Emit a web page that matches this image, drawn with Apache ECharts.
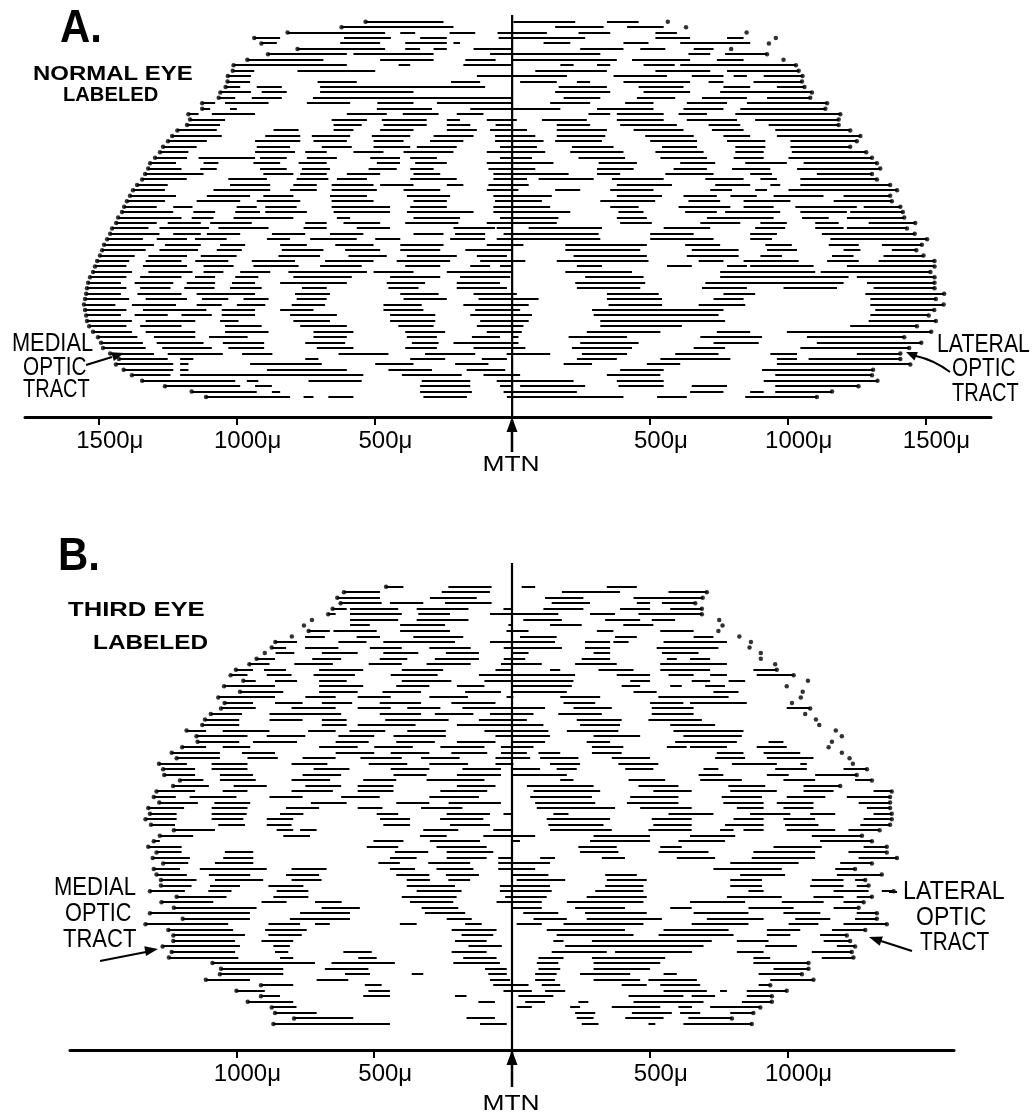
<!DOCTYPE html>
<html><head><meta charset="utf-8">
<script src="https://cdn.jsdelivr.net/npm/echarts@6/dist/echarts.min.js"></script>
<style>html,body{margin:0;padding:0;background:#fff}#c{width:1036px;height:1117px}</style>
</head><body><div id="c"></div>
<script>
// ---------- DATA (distances from MTN in microns; negative = medial side) ----------
// Panel A: normal eye labeled. One entry per section row (top to bottom): flat list of segment [start,end] pairs
const rowsA = [
[-532,-249,5,229,344,459],
[-619,-213,156,332,417,550],
[-815,-461,-406,-352,-227,-134,-53,126,241,356,520,598],
[-936,-842,-610,-440,-334,-237,-49,265,520,646,780,840],
[-910,-854,-624,-479,-388,-237,-213,-189,114,211,404,495,610,864],
[-779,-461,-388,-334,-285,-237,-140,0,247,404,465,556,659,731],
[-886,-600,-576,-285,-80,320,640,719,773,925],
[-961,-685,-479,-285,-170,-60,0,380,435,646,743,840],
[-1011,-600,-412,-370,-177,0,175,223,308,356,477,590,610,1030],
[-1014,-936,-779,-497,84,344,520,719,780,1040],
[-1032,-948,-128,199,368,562,652,767,804,852,913,1054],
[-1033,-951,-706,-564,-222,-116,29,162,235,283,404,646,713,767,876,1052],
[-1040,-987,-927,-836,-697,-98,169,344,459,622,767,864,961,1061],
[-1059,-948,-909,-818,-697,-358,156,356,477,646,755,1088],
[-1065,-1005,-945,-836,-723,0,187,320,453,592,689,852,925,1082],
[-1125,-1078,-1042,-884,-745,-588,-489,-358,-273,0,138,283,410,513,634,780,852,1143],
[-1125,-1096,-1024,-999,-491,-291,-152,175,308,513,622,767,828,1137],
[-1175,-1138,-1090,-933,-600,-455,-397,-267,-201,-104,277,356,380,550,604,707,810,1191],
[-1169,-1042,-655,-527,-473,-310,-237,-189,-92,17,108,271,380,550,634,816,882,1185],
[-1180,-1060,-648,-546,-467,-310,-237,-152,-60,0,162,283,392,598,713,828,931,1185],
[-1215,-1072,-866,-775,-648,-576,-479,-358,-237,-128,-80,54,162,344,441,622,725,840,955,1227],
[-1234,-1054,-896,-769,-727,-588,-509,-370,-285,-140,-62,84,162,338,483,659,767,864,961,1264],
[-1249,-1108,-933,-769,-721,-600,-503,-394,-298,-177,-62,114,156,326,501,671,780,919,1010,1251],
[-1267,-1145,-927,-806,-691,-582,-503,-370,-346,-201,-44,90,217,368,544,671,810,919,1010,1227],
[-1278,-1175,-933,-788,-751,-673,-576,-467,-394,-213,-92,120,211,404,520,695,810,913,1015,1285],
[-1296,-1180,-1138,-933,-915,-818,-745,-636,-515,-407,-370,-273,-44,72,241,410,538,707,804,913,1003,1306],
[-1314,-1220,-1120,-1066,-939,-842,-775,-673,-491,-407,-352,-237,-92,150,314,453,610,737,846,997,1058,1324],
[-1321,-1200,-1132,-1072,-915,-818,-763,-661,-521,-419,-370,-285,-86,84,308,441,586,707,798,937,1034,1336],
[-1332,-1120,-903,-794,-769,-673,-600,-479,-358,-261,-68,205,308,392,556,731,864,943,1106,1306],
[-1343,-1181,-1030,-890,-782,-667,-636,-527,-370,-201,-68,54,96,296,362,550,701,840,901,961,1046,1324],
[-1361,-1250,-1024,-878,-794,-709,-655,-503,-479,-358,-237,-177,-86,60,380,580,737,864,937,973,1046,1372],
[-1376,-1260,-1084,-878,-806,-709,-655,-491,-394,-261,-92,23,156,247,356,513,719,798,882,925,1003,1397],
[-1387,-1220,-1108,-951,-903,-794,-661,-527,-382,-225,-68,144,380,544,622,743,792,888,949,1130,1203,1372],
[-1398,-1260,-1145,-987,-927,-769,-655,-503,-358,-237,-62,108,320,519,640,755,840,1010,1167,1378],
[-1408,-1290,-1230,-1160,-1000,-927,-896,-782,-655,-443,-370,-237,-68,138,356,459,604,792,840,949,1028,1251,1276,1409],
[-1416,-1230,-1157,-1078,-1005,-915,-896,-745,-648,-443,-382,-140,-68,211,386,477,628,743,773,973,1046,1215,1227,1418],
[-1430,-1200,-1163,-1084,-1011,-794,-636,-588,-358,-189,-44,168,380,489,707,949,1052,1149,1215,1423],
[-1437,-1290,-1250,-1130,-1096,-945,-751,-673,-612,-479,-388,-195,-92,162,392,507,683,828,901,997,1100,1185,1294,1463],
[-1452,-1320,-1280,-1100,-1066,-884,-757,-673,-564,-443,-213,-62,-56,0,60,326,550,719,882,991,1100,1203,1215,1433],
[-1459,-1280,-1230,-1130,-1108,-987,-872,-751,-661,-540,-358,-249,-207,-98,-31,314,501,659,864,961,1124,1461],
[-1470,-1340,-1290,-1180,-1151,-1036,-890,-806,-733,-564,-497,-406,-225,-98,-56,320,501,731,864,943,1155,1506],
[-1481,-1300,-1260,-1130,-1060,-969,-842,-745,-642,-503,-406,-249,-92,41,193,489,628,755,919,1015,1149,1258,1342,1487],
[-1488,-1330,-1280,-1140,-1072,-981,-836,-685,-606,-479,-406,-261,-170,0,193,465,652,822,925,1034,1203,1264,1378,1467],
[-1496,-1370,-1320,-1180,-1130,-1000,-848,-697,-594,-455,-382,-201,-128,-19,223,489,634,822,901,979,1161,1239,1348,1493],
[-1506,-1390,-1330,-1200,-1150,-1030,-945,-788,-679,-503,-419,-225,-116,48,162,495,677,767,840,1040,1143,1258,1330,1533],
[-1514,-1400,-1340,-1180,-1120,-1011,-939,-775,-697,-546,-388,-261,-152,-80,-44,0,235,326,562,652,780,852,864,1094,1215,1533],
[-1521,-1380,-1320,-1160,-1120,-1048,-987,-878,-812,-527,-503,-358,-237,0,193,435,755,1100,1120,1518],
[-1532,-1400,-1350,-1200,-1151,-1078,-1005,-921,-794,-582,-443,-261,-189,-7,265,477,755,1221,1251,1533],
[-1539,-1420,-1370,-1230,-1181,-1078,-1017,-933,-842,-600,-455,-316,-201,-44,229,483,701,1203,1288,1533],
[-1543,-1400,-1350,-1240,-1190,-1080,-1024,-909,-763,-673,-449,-340,-201,-19,235,465,689,852,985,1179,1312,1533],
[-1546,-1420,-1360,-1200,-1145,-933,-788,-661,-406,-267,-140,17,344,532,767,882,1282,1568],
[-1550,-1390,-1330,-1180,-1126,-1030,-975,-884,-782,-673,-394,-237,-122,96,344,544,731,840,1300,1538],
[-1554,-1440,-1380,-1220,-1145,-1054,-999,-896,-800,-679,-467,-328,-177,60,350,544,677,846,1300,1566],
[-1550,-1400,-1340,-1110,-1054,-933,-842,-721,-467,-322,-134,29,290,767,1318,1532],
[-1546,-1420,-1370,-1250,-1200,-1090,-1054,-933,-806,-636,-443,-279,-152,72,296,749,1300,1512],
[-1543,-1380,-1330,-1150,-1060,-993,-794,-661,-443,-279,-116,60,320,773,1294,1538],
[-1535,-1400,-1350,-1200,-1042,-909,-769,-600,-413,-285,-128,41,320,616,1227,1469],
[-1521,-1380,-1330,-1150,-1042,-884,-721,-576,-388,-243,-92,35,271,538,743,864,997,1521],
[-1503,-1360,-1300,-1150,-1100,-960,-721,-600,-382,-273,-146,-44,0,23,205,417,683,907,1070,1423],
[-1492,-1340,-1290,-1120,-1050,-900,-751,-606,-364,-267,-213,23,247,459,731,895,1106,1485],
[-1485,-1330,-1270,-1090,-1030,-900,-709,-576,-388,-273,-140,48,217,435,659,773,1046,1441],
[-1459,-1300,-1250,-1050,-980,-870,-630,-449,-316,-134,-20,138,253,417,592,749,937,1034,1251,1409],
[-1427,-1250,-1205,-1157,-751,-703,-370,-243,-110,-19,235,380,538,792,961,1034,1076,1409],
[-1438,-1230,-1205,-1175,-951,-691,-497,-358,-207,-86,187,290,489,610,961,1445],
[-1410,-1230,-1205,-1175,-890,-600,-449,-291,-165,-25,392,550,907,1310],
[-1380,-1240,-1205,-540,-400,-183,-104,29,344,538,955,1306],
[-1343,-1005,-963,-921,-739,-546,-328,-152,-56,223,380,550,913,1326],
[-1260,-987,-933,-872,-334,-152,-44,0,29,265,386,550,652,780,955,1257],
[-1163,-927,-872,-842,-334,-146,-31,235,646,767,864,913,955,1161],
[-1111,-806,-757,-721,-667,-576,-322,-164,-19,404,526,634,846,1106]
];
// end points of each row that carry a dot (medial / lateral edge of the labeled zone)
const leftEndsA = [-532,-619,-815,-936,-910,-779,-886,-961,-1011,-1014,-1032,-1033,-1040,-1059,-1065,-1125,-1125,-1175,-1169,-1180,
-1215,-1234,-1249,-1267,-1278,-1296,-1314,-1321,-1332,-1343,-1361,-1376,-1387,-1398,-1408,-1416,-1430,-1437,-1452,-1459,
-1470,-1481,-1488,-1496,-1506,-1514,-1521,-1532,-1539,-1543,-1546,-1550,-1554,-1550,-1546,-1543,-1535,-1521,-1503,-1492,
-1485,-1459,-1427,-1438,-1410,-1380,-1343,-1260,-1163,-1111];
const rightEndsA = [565,631,851,957,932,795,925,985,1030,1040,1054,1052,1061,1088,1082,1143,1137,1191,1185,1185,
1227,1264,1251,1227,1285,1306,1324,1336,1306,1324,1372,1397,1372,1378,1409,1418,1423,1463,1433,1461,
1506,1487,1467,1493,1533,1533,1518,1533,1533,1533,1568,1538,1566,1532,1512,1538,1469,1521,1423,1485,
1441,1409,1409,1445,1310,1306,1326,1257,1161,1106];

// Panel B: third eye labeled
const rowsB = [
[-457,-394,-231,-74,35,84,344,453],
[-610,-479,-255,-80,181,392,568,707],
[-634,-479,-298,-128,120,259,441,692],
[-622,-473,-443,-322,-243,-74,144,283,453,501,544,665],
[-651,-600,-588,-413,-346,-158,-31,0,114,259,392,501,574,689],
[-667,-640,-588,-400,-340,-225,-80,168,283,374,459,689],
[-588,-413,-346,-158,41,181,338,465,507,592],
[-588,-516,-406,-243,-13,0,138,253,404,513],
[-738,-661,-648,-491,-406,-225,-20,60,308,368,538,659],
[-751,-679,-564,-479,-358,-177,29,162,374,453,659,731],
[-859,-780,-630,-528,-467,-207,-80,156,265,356,368,423,550,780],
[-872,-820,-751,-630,-516,-400,-300,-150,-30,181,265,356,525,749],
[-858,-790,-690,-560,-467,-340,-240,-120,0,60,296,356,544,677],
[-927,-860,-725,-620,-480,-380,-280,-120,-30,48,253,356,562,598,646,719],
[-953,-880,-790,-650,-520,-400,-310,-150,-40,108,229,380,538,780],
[-1002,-940,-900,-820,-700,-540,-400,-250,-60,0,138,175,314,441,538,719,876,961],
[-1021,-960,-890,-800,-720,-570,-440,-270,-120,229,380,501,568,659,719,780,888,1022],
[-975,-930,-860,-780,-700,-600,-400,-220,-100,223,429,501,652,719,786,846],
[-1045,-860,-700,-540,-420,-300,-200,-100,0,217,398,465,574,616,701,773],
[-987,-830,-700,-560,-470,-330,-170,-40,0,199,441,525,731,822],
[-1066,-860,-750,-640,-560,-440,-300,-160,-20,5,175,320,531,786],
[-1043,-940,-860,-760,-690,-580,-480,-330,-220,-60,187,302,501,622,646,852],
[-1056,-930,-800,-640,-560,-440,-380,-260,-180,120,223,362,507,659,997,1082],
[-1093,-980,-880,-620,-480,-330,-280,-140,-80,78,168,326,507,659],
[-1114,-990,-880,-760,-690,-600,-460,-230,-120,54,235,398,495,689],
[-1124,-990,-690,-600,-560,-350,-200,114,247,392,574,737],
[-1181,-1110,-1050,-880,-740,-640,-590,-460,-380,-240,-100,132,199,386,586,840],
[-1145,-960,-890,-750,-630,-500,-430,-240,-60,138,296,465,622,834],
[-1141,-990,-940,-780,-640,-520,-420,-280,-200,-60,0,120,271,356,592,816,931,985],
[-1197,-1110,-1050,-950,-700,-560,-500,-360,-260,-100,-40,78,290,404,562,634,646,780,888,997],
[-1235,-1060,-980,-860,-640,-500,-440,-300,-220,-90,-40,54,96,175,290,398,743,840,913,1046],
[-1217,-1060,-960,-850,-760,-640,-550,-400,-330,-190,-60,66,102,241,362,501,737,846,925,1094],
[-1281,-1180,-1090,-960,-800,-670,-520,-380,-300,-160,-60,5,138,247,386,531,798,961,1046,1070],
[-1266,-1150,-1090,-960,-720,-590,-440,-300,-180,-40,0,102,162,235,411,513,695,749,955,1070,1203,1288],
[-1262,-1150,-1060,-940,-760,-620,-430,-310,-200,-40,0,199,677,767,925,1004,1100,1251],
[-1205,-1120,-1060,-930,-800,-660,-540,-420,-310,-100,175,223,423,556,683,834,985,1100,1245,1306],
[-1230,-1100,-1010,-890,-750,-620,-560,-430,-200,-60,54,296,459,604,785,919,1058,1191],
[-1290,-1150,-1050,-960,-800,-650,-560,-430,-260,-90,78,320,513,652,792,961,1058,1167,1312,1378],
[-1300,-1220,-1170,-1000,-880,-760,-620,-480,-300,-120,66,290,429,604,761,907,997,1137,1215,1372],
[-1280,-1140,-1080,-950,-730,-600,-420,-300,-230,-40,84,302,417,604,767,913,961,1094,1258,1372],
[-1320,-1190,-1090,-960,-820,-700,-560,-470,-330,-180,90,374,465,652,816,913,985,1094,1288,1372],
[-1314,-1217,-1090,-963,-842,-757,-491,-413,-237,-80,-31,0,150,205,568,731,864,1010,1082,1173,1312,1378],
[-1330,-1217,-1090,-975,-890,-794,-479,-370,-261,-104,126,356,507,652,804,913,985,1100,1276,1378],
[-1310,-1223,-1066,-969,-890,-800,-467,-370,-225,-80,132,332,513,652,773,913,991,1112,1264,1372],
[-1227,-1078,-854,-794,-769,-709,-322,-195,-68,0,138,362,495,652,755,804,840,913,997,1173,1221,1334],
[-1278,-1157,-830,-733,-334,-237,-104,84,296,501,646,810,1088,1270],
[-1300,-1278,-503,-394,-298,-116,0,29,283,501,604,773,1118,1306],
[-1320,-1199,-527,-413,-274,-92,241,380,538,616,949,1124,1276,1360],
[-1290,-1199,-1042,-939,-425,-304,-237,-68,247,386,532,713,876,1100,1221,1360],
[-1304,-1169,-1048,-939,-443,-346,-237,-92,-50,0,102,156,326,410,598,737,870,1100,1258,1397],
[-1266,-1175,-1078,-939,-485,-407,-304,-152,-50,138,792,1040,1191,1306],
[-1300,-1205,-1133,-890,-800,-673,-443,-352,-274,-140,-50,84,731,979,1173,1245],
[-1290,-1180,-1100,-950,-820,-700,-420,-300,-240,-120,0,132,338,453,828,991,1179,1342],
[-1274,-1145,-1078,-903,-800,-691,-382,-298,-231,-152,17,193,344,489,792,907,1088,1203,1245,1282],
[-1274,-1163,-1096,-987,-884,-757,-382,-207,-44,138,338,477,792,907,1082,1203,1251,1294],
[-1314,-1187,-1102,-1018,-854,-739,-346,-183,-44,144,302,477,858,913,1167,1294,1342,1385],
[-1217,-1036,-866,-739,-400,-201,-25,126,271,489,780,979,1094,1203,1251,1306],
[-1272,-1084,-909,-818,-715,-618,-370,-213,-56,108,199,477,646,846,979,1131,1203,1276],
[-1227,-927,-691,-552,-328,-195,0,108,229,410,574,652,858,1022,1167,1258],
[-1314,-951,-769,-588,-316,-170,41,168,265,489,659,858,985,1119,1251,1324],
[-1195,-951,-806,-588,-237,-146,78,199,271,544,707,913,1028,1155,1245,1324],
[-1330,-1030,-884,-769,-715,-661,-407,-346,-170,-110,17,108,187,477,652,858,1004,1112,1203,1360],
[-1247,-1012,-896,-745,-219,-56,126,410,550,786,925,1046,1161,1282],
[-1229,-969,-884,-763,-183,-68,162,441,532,804,925,1010,1118,1215],
[-1229,-1005,-909,-794,-207,-92,150,187,290,725,816,931,1131,1227],
[-1268,-987,-866,-806,-158,-37,193,695,919,1034,1179,1245],
[-1235,-1005,-860,-812,-612,-509,-219,-92,144,344,374,653,816,913,1088,1233],
[-1245,-993,-842,-794,-558,-491,-177,-56,96,187,290,556,876,937,1124,1239],
[-1087,-715,-655,-425,-213,-44,90,168,296,538,876,1076],
[-1056,-830,-679,-521,-98,-19,96,175,296,501,949,1076],
[-1060,-830,-606,-515,-364,-322,-86,-19,84,162,247,429,550,598,895,1052],
[-1111,-951,-709,-594,-80,-7,84,156,296,465,495,671,937,1094],
[-911,-794,-534,-473,-68,60,108,175,398,489,538,683,895,937],
[-1000,-897,-521,-443,-31,72,120,193,550,707,755,780,852,997],
[-911,-842,-540,-443,-207,-165,23,150,423,622,652,737,852,943],
[-959,-794,-122,-62,48,120,241,277,441,695,834,943],
[-872,-782,17,72,211,247,362,538,604,653,719,901],
[-860,-709,229,302,435,580,610,683,792,876],
[-791,-576,-165,-62,235,296,411,550,640,798],
[-866,-443,-116,-19,253,314,495,520,622,870]
];
const leftEndsB = [-457,-610,-634,-622,-651,-667,-726,-755,-738,-799,-859,-872,-897,-927,-953,-1002,-1021,-975,-1045,-987,
-1066,-1043,-1056,-1093,-1114,-1124,-1181,-1145,-1141,-1197,-1235,-1217,-1281,-1266,-1262,-1205,-1230,-1290,-1300,-1280,
-1320,-1314,-1330,-1310,-1227,-1278,-1300,-1320,-1290,-1304,-1266,-1300,-1290,-1274,-1274,-1314,-1217,-1272,-1227,-1314,
-1195,-1330,-1247,-1229,-1229,-1268,-1235,-1245,-1087,-1056,-1060,-1111,-911,-1000,-911,-959,-872,-860,-791,-866];
const rightEndsB = [null,707,692,665,689,689,752,764,749,825,867,862,903,903,955,961,1022,1074,997,1055,
1048,1016,1082,1064,1103,1115,1175,1197,1161,1149,1197,1225,1237,1288,1251,1306,1191,1378,1372,1372,
1372,1378,1378,1372,1334,1270,1306,1360,1360,1397,1306,1245,1342,1282,1294,1385,1306,1276,1258,1324,
1324,1360,1282,1215,1227,1245,1233,1239,1076,1076,1052,1094,937,997,943,943,901,876,798,870];

const ticksA = [-1500,-1000,-500,500,1000,1500];
const ticksB = [-1000,-500,500,1000];

// ---------- BUILD ----------
function segData(rows){const out=[];rows.forEach((r,i)=>{for(let k=0;k<r.length;k+=2)out.push([r[k],r[k+1],i]);});return out;}
function dotData(ends){const out=[];ends.forEach((v,i)=>{if(v!=null)out.push([v,i]);});return out;}
function renderSeg(params, api){
  const a=api.coord([api.value(0),api.value(2)]), b=api.coord([api.value(1),api.value(2)]);
  const y=Math.round(a[1]);
  return {type:'line',shape:{x1:a[0],y1:y,x2:b[0],y2:y},style:{stroke:'#000',lineWidth:2}};
}
const yA=[-1.23,72.67], yB=[-4.28,83.7];
const FONT='"Liberation Sans", Arial, sans-serif';
function xAxisCfg(gi,min,max,ticks){
  return {gridIndex:gi,type:'value',min:min,max:max,
    axisLine:{show:true,onZero:false,lineStyle:{color:'#000',width:3}},
    axisTick:{show:true,length:8,lineStyle:{color:'#000',width:2},customValues:ticks},
    axisLabel:{show:true,customValues:ticks,color:'#000',fontSize:24,fontFamily:FONT,margin:12,padding:[0,0,0,22],
      formatter:v=>Math.abs(v)+'μ'},
    splitLine:{show:false}};
}
function yAxisCfg(gi,r){return {gridIndex:gi,type:'value',inverse:true,min:r[0],max:r[1],show:false,splitLine:{show:false}};}

function txt(x,y,s,size,weight,sx,align){
  return {type:'text',x:x,y:y,scaleX:sx,silent:true,style:{text:s,font:weight+' '+size+'px '+FONT,fill:'#000',
    align:align||'left',textAlign:align||'left',verticalAlign:'middle',textVerticalAlign:'middle'}};
}
function ln(x1,y1,x2,y2,w){return {type:'line',silent:true,shape:{x1,y1,x2,y2},style:{stroke:'#000',lineWidth:w||2}};}
function tri(p){return {type:'polygon',silent:true,shape:{points:p},style:{fill:'#000'}};}

const graphics=[
  txt(60,29,'A.',46,'900',0.91),
  txt(33,74,'NORMAL EYE',21,'bold',1.14),
  txt(63,95.5,'LABELED',21,'bold',0.96),
  txt(58,557,'B.',46,'900',0.91),
  txt(68,610.5,'THIRD EYE',21,'bold',1.22),
  txt(93,643.5,'LABELED',21,'bold',1.16),
  txt(12,344,'MEDIAL',25,'normal',0.87),
  txt(23,368.5,'OPTIC',25,'normal',0.83),
  txt(23,390.5,'TRACT',25,'normal',0.8),
  txt(937,345.5,'LATERAL',25,'normal',0.85),
  txt(952,369.5,'OPTIC',25,'normal',0.83),
  txt(952,394.5,'TRACT',25,'normal',0.8),
  txt(54,888.5,'MEDIAL',25,'normal',0.88),
  txt(65,914.5,'OPTIC',25,'normal',0.87),
  txt(63,940.5,'TRACT',25,'normal',0.88),
  txt(903,892.5,'LATERAL',25,'normal',0.93),
  txt(916,918.5,'OPTIC',25,'normal',0.92),
  txt(920,943.5,'TRACT',25,'normal',0.83),
  ln(889,892,897,892,2),
  txt(511,465,'MTN',22,'normal',1.2,'center'),
  txt(511,1103.5,'MTN',22,'normal',1.2,'center'),
  // MTN arrows
  ln(512,420,512,452,2.5), tri([[512,417],[506.5,432],[517.5,432]]),
  ln(512,1052,512,1087,2.5), tri([[512,1050],[506.5,1065],[517.5,1065]]),
  // optic tract arrows
  ln(86,365,112,357,2), tri([[124,353],[113.9,360.9],[111.1,352.3]]),
  {type:'bezierCurve',silent:true,shape:{x1:950,y1:372,x2:916,y2:356,cpx1:934,cpy1:360},style:{stroke:'#000',lineWidth:2,fill:'none'}},
  tri([[906,352],[917.9,352.0],[914.4,360.4]]),
  ln(100,961,146,952,2.2), tri([[158,949],[146,956.1],[144.3,946.3]]),
  ln(912,951,881,941,2.2), tri([[869,937],[882.9,936.4],[879.7,945.8]])
];

const chart=echarts.init(document.getElementById('c'),null,{renderer:'canvas'});
chart.setOption({
  animation:false,backgroundColor:'#fff',
  grid:[{left:25,top:15,width:966,height:402},{left:70,top:563,width:884,height:487}],
  xAxis:[xAxisCfg(0,-1768,1738,ticksA),xAxisCfg(1,-1604,1604,ticksB)],
  yAxis:[yAxisCfg(0,yA),yAxisCfg(1,yB)],
  series:[
    {type:'line',xAxisIndex:0,yAxisIndex:0,data:[[0,yA[0]],[0,yA[1]]],symbol:'none',lineStyle:{color:'#000',width:2.2},silent:true},
    {type:'line',xAxisIndex:1,yAxisIndex:1,data:[[0,yB[0]],[0,yB[1]]],symbol:'none',lineStyle:{color:'#000',width:2.2},silent:true},
    {type:'custom',xAxisIndex:0,yAxisIndex:0,renderItem:renderSeg,data:segData(rowsA),encode:{x:[0,1],y:2},silent:true},
    {type:'custom',xAxisIndex:1,yAxisIndex:1,renderItem:renderSeg,data:segData(rowsB),encode:{x:[0,1],y:2},silent:true},
    {type:'scatter',xAxisIndex:0,yAxisIndex:0,data:dotData(leftEndsA).concat(dotData(rightEndsA)),symbolSize:4.5,itemStyle:{color:'#000'},silent:true},
    {type:'scatter',xAxisIndex:1,yAxisIndex:1,data:dotData(leftEndsB).concat(dotData(rightEndsB)),symbolSize:4.5,itemStyle:{color:'#000'},silent:true}
  ],
  graphic:graphics
});
</script></body></html>
